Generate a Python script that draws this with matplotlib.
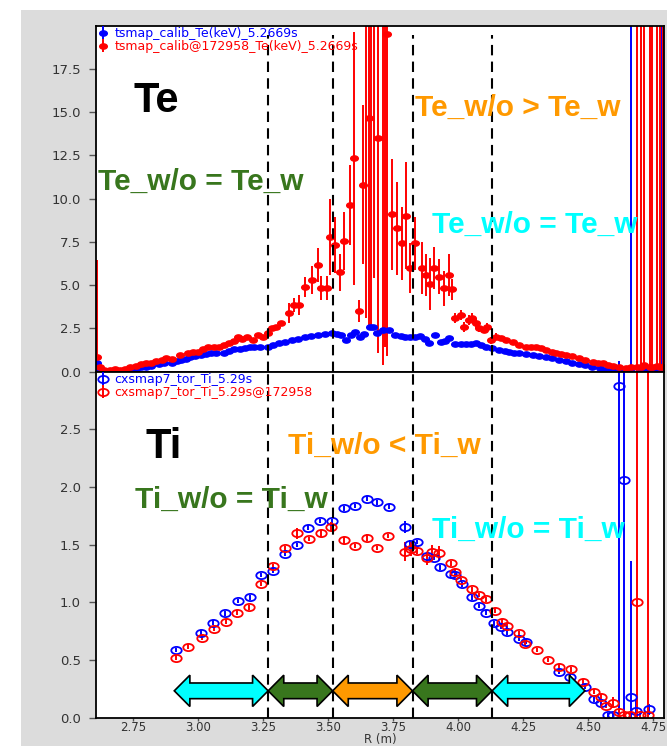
import numpy as np
import matplotlib
matplotlib.use('Agg')
import matplotlib.pyplot as plt
from matplotlib.path import Path
from matplotlib.transforms import Affine2D
from matplotlib.patches import Rectangle, Polygon

# ---------------- data ----------------
te_blue_R = [2.61, 2.625, 2.64, 2.66, 2.68, 2.70, 2.72, 2.74, 2.76, 2.78, 2.80, 2.82, 2.85, 2.87,
             2.90, 2.92, 2.935, 2.955, 2.97, 2.99, 3.01, 3.03, 3.05, 3.07, 3.10, 3.12, 3.14, 3.16,
             3.18, 3.20, 3.217, 3.24, 3.27, 3.29, 3.31, 3.335, 3.36, 3.385, 3.41, 3.435, 3.463,
             3.49, 3.515, 3.535, 3.55, 3.57, 3.59, 3.605, 3.624, 3.64, 3.66, 3.672, 3.688, 3.71,
             3.733, 3.759, 3.78, 3.797, 3.815, 3.836, 3.855, 3.872, 3.888, 3.91, 3.933, 3.95,
             3.965, 3.99, 4.01, 4.03, 4.05, 4.068, 4.09, 4.107, 4.13, 4.158, 4.18, 4.197, 4.215,
             4.235, 4.26, 4.287, 4.31, 4.338, 4.36, 4.39, 4.415, 4.44, 4.465, 4.49, 4.515, 4.544,
             4.57, 4.60, 4.62, 4.664, 4.70, 4.73, 4.76, 4.786]
te_blue = [0.49, 0.10, 0.05, 0.03, 0.04, 0.05, 0.08, 0.12, 0.18, 0.25, 0.30, 0.35, 0.43, 0.48,
           0.52, 0.60, 0.68, 0.75, 0.85, 0.90, 0.96, 1.00, 1.06, 1.08, 1.10, 1.20, 1.29, 1.30,
           1.35, 1.40, 1.45, 1.45, 1.45, 1.55, 1.64, 1.72, 1.83, 1.90, 2.02, 2.05, 2.12,
           2.20, 2.25, 2.20, 2.10, 1.83, 2.10, 2.31, 2.02, 2.20, 2.56, 2.60, 2.22, 2.41,
           2.41, 2.12, 2.05, 2.03, 2.00, 2.02, 2.04, 1.90, 1.64, 2.12, 1.73, 1.80,
           1.96, 1.60, 1.58, 1.60, 1.62, 1.64, 1.55, 1.45, 1.35, 1.25, 1.20, 1.16, 1.10,
           1.06, 1.02, 0.98, 0.93, 0.87, 0.78, 0.68, 0.60, 0.52, 0.46, 0.40, 0.30, 0.20,
           0.12, 0.08, 0.05, 0.20, 0.10, 0.12, 0.20, 0.20]
te_blue_err = [0.05] * 94 + [0.55, 40.0, 0.05, 0.05, 0.05, 40.0]

te_red_R = [2.612, 2.625, 2.64, 2.66, 2.68, 2.70, 2.72, 2.74, 2.76, 2.78,
            2.80, 2.82, 2.84, 2.86, 2.877, 2.90, 2.93, 2.96, 2.98, 3.00,
            3.02, 3.04, 3.06, 3.08, 3.10, 3.12, 3.14, 3.155, 3.17, 3.19,
            3.21, 3.23, 3.25, 3.27, 3.285, 3.30, 3.32, 3.35, 3.37, 3.39,
            3.41, 3.44, 3.46, 3.475, 3.495, 3.508, 3.527, 3.546, 3.561, 3.585,
            3.60, 3.62, 3.636, 3.648, 3.659, 3.665, 3.678, 3.693, 3.713, 3.72,
            3.728, 3.748, 3.764, 3.783, 3.80, 3.815, 3.836, 3.86, 3.875, 3.894,
            3.907, 3.926, 3.946, 3.965, 3.978, 3.99, 4.01, 4.023, 4.042, 4.055,
            4.068, 4.081, 4.10, 4.113, 4.126, 4.145, 4.164, 4.184, 4.21, 4.235,
            4.26, 4.28, 4.30, 4.32, 4.338, 4.36, 4.377, 4.395, 4.415, 4.44,
            4.467, 4.49, 4.518, 4.537, 4.557, 4.575, 4.595, 4.62, 4.647, 4.667,
            4.688, 4.703, 4.715, 4.738, 4.744, 4.765, 4.776, 4.79]
te_red = [0.87, 0.25, 0.10, 0.12, 0.15, 0.12, 0.18, 0.29, 0.35, 0.44,
          0.50, 0.52, 0.60, 0.68, 0.81, 0.75, 0.96, 1.10, 1.12, 1.16,
          1.30, 1.45, 1.40, 1.45, 1.55, 1.65, 1.80, 2.02, 1.90, 2.00,
          1.85, 2.10, 2.00, 2.23, 2.50, 2.60, 2.80, 3.40, 3.85, 3.85,
          4.90, 5.30, 6.17, 4.84, 4.84, 7.80, 7.32, 5.74, 7.55, 9.63,
          12.33, 3.53, 10.80, 22.0, 14.65, 24.0, 25.0, 13.50, 24.0, 22.0,
          19.50, 9.10, 8.29, 7.42, 9.02, 6.01, 7.42, 5.98, 5.60, 5.05,
          5.98, 5.49, 4.82, 5.60, 4.76, 3.12, 3.28, 2.60, 2.99, 3.12,
          2.80, 2.50, 2.41, 2.60, 1.83, 2.02, 1.93, 1.83, 1.73, 1.54,
          1.45, 1.40, 1.42, 1.35, 1.25, 1.15, 1.06, 1.02, 0.98, 0.88,
          0.77, 0.68, 0.58, 0.52, 0.48, 0.40, 0.35, 0.28, 0.21, 0.30,
          0.30, 0.25, 0.40, 0.30, 0.25, 0.35, 0.30, 0.25]
te_red_err = ([5.6] + [0.05] * 29
              + [0.05] * 7 + [0.58, 0.40, 0.60]
              + [0.58, 0.80, 0.96, 0.70, 0.70, 2.20, 1.60, 1.06, 1.70, 2.30]
              + [7.3, 0.63, 4.6, 18.9, 12.0, 21.5, 19.6, 12.4, 23.6, 20.6]
              + [18.6, 3.2, 2.7, 2.1, 3.1, 1.45, 1.54, 1.5, 1.2, 1.5]
              + [1.2, 1.0, 1.0, 1.2, 0.6, 0.3, 0.3, 0.3, 0.3, 0.3]
              + [0.3, 0.2, 0.2, 0.2, 0.2, 0.2, 0.08, 0.08, 0.08, 0.08]
              + [0.08] * 10
              + [0.08] * 9 + [0.1]
              + [40.0] * 8)

ti_blue_R = [2.916, 3.013, 3.058, 3.103, 3.154, 3.199, 3.244, 3.289, 3.334, 3.379, 3.424,
             3.469, 3.515, 3.56, 3.605, 3.65, 3.688, 3.733, 3.797, 3.817, 3.843, 3.88, 3.907,
             3.93, 3.972, 3.99, 4.014, 4.055, 4.081, 4.107, 4.139, 4.164, 4.19, 4.235, 4.262,
             4.39, 4.432, 4.49, 4.523, 4.55, 4.575, 4.595, 4.62, 4.64, 4.665, 4.685, 4.734]
ti_blue = [0.587, 0.737, 0.823, 0.905, 1.011, 1.043, 1.237, 1.274, 1.418, 1.497, 1.647,
           1.707, 1.707, 1.815, 1.835, 1.900, 1.866, 1.829, 1.655, 1.503, 1.525, 1.401, 1.387,
           1.303, 1.245, 1.240, 1.156, 1.043, 0.968, 0.910, 0.818, 0.789, 0.740, 0.685, 0.659,
           0.400, 0.355, 0.270, 0.159, 0.125, 0.020, 0.020, 2.874, 2.060, 0.182, 0.058, 0.073]
ti_blue_err = [0.02] * 18 + [0.05, 0.04] + [0.02] * 22 + [5.0, 5.0, 1.18, 0.1, 0.05]

ti_red_R = [2.916, 2.963, 3.015, 3.061, 3.106, 3.151, 3.197, 3.244, 3.289, 3.334, 3.382,
            3.427, 3.473, 3.512, 3.56, 3.605, 3.65, 3.688, 3.73, 3.795, 3.82, 3.843, 3.88,
            3.90, 3.926, 3.974, 3.99, 4.01, 4.055, 4.081, 4.107, 4.143, 4.171, 4.19, 4.235,
            4.258, 4.303, 4.347, 4.39, 4.435, 4.48, 4.523, 4.55, 4.57, 4.594, 4.62, 4.64,
            4.66, 4.689, 4.70, 4.73]
ti_red = [0.520, 0.615, 0.693, 0.768, 0.832, 0.910, 0.957, 1.159, 1.315, 1.468, 1.598,
          1.549, 1.598, 1.655, 1.540, 1.488, 1.560, 1.473, 1.575, 1.440, 1.460, 1.447, 1.381,
          1.440, 1.430, 1.338, 1.265, 1.193, 1.113, 1.063, 1.026, 0.927, 0.832, 0.797, 0.731,
          0.639, 0.587, 0.500, 0.442, 0.419, 0.312, 0.225, 0.182, 0.101, 0.130, 0.052, 0.020,
          0.020, 1.005, 0.020, 0.020]
ti_red_err = [0.02] * 10 + [0.05, 0.02, 0.03, 0.04, 0.03, 0.02, 0.03, 0.02, 0.02, 0.08, 0.06,
              0.03, 0.06, 0.06, 0.06] + [0.02] * 19 + [0.05, 0.02, 0.02, 0.02, 5.0, 0.02, 5.0]

region_bounds = [2.909, 3.27, 3.518, 3.825, 4.131, 4.488]
region_colors = ['#00ffff', '#38761d', '#ff9900', '#38761d', '#00ffff']

yticks_te = [0.0, 2.5, 5.0, 7.5, 10.0, 12.5, 15.0, 17.5]
yticks_ti = [0.0, 0.5, 1.0, 1.5, 2.0, 2.5]
xticks = [2.75, 3.00, 3.25, 3.50, 3.75, 4.00, 4.25, 4.50, 4.75]

# ---------------- figure ----------------
W, H = 667, 746
fig = plt.figure(figsize=(W / 100, H / 100), dpi=100)
fig.patch.set_facecolor('white')
fig.patches.append(Rectangle((21 / W, 0), 1 - 21 / W, 1 - 10 / H, transform=fig.transFigure,
                             facecolor='#dcdcdc', edgecolor='none', zorder=-10))


def fx(px):
    return px / W


def fy(py):
    return 1 - py / H


L, R = 96, 664
T1, B1, B2 = 25.7, 371.7, 717.7
ax1 = fig.add_axes([fx(L), fy(B1), fx(R) - fx(L), fy(T1) - fy(B1)])
ax2 = fig.add_axes([fx(L), fy(B2), fx(R) - fx(L), fy(B1) - fy(B2)], sharex=ax1)

ell = Path.unit_circle().transformed(Affine2D().scale(1.45, 1.0))

ax1.errorbar(te_blue_R, te_blue, yerr=te_blue_err, fmt='o', marker=ell, ms=5.5,
             color='#0000ff', ecolor='#0000ff', elinewidth=1.4, capsize=0,
             label='tsmap_calib_Te(keV)_5.2669s')
ax1.errorbar(te_red_R, te_red, yerr=te_red_err, fmt='o', marker=ell, ms=5.5,
             color='#ff0000', ecolor='#ff0000', elinewidth=1.4, capsize=0,
             label='tsmap_calib@172958_Te(keV)_5.2669s')

ax2.errorbar(ti_blue_R, ti_blue, yerr=ti_blue_err, fmt='o', marker=ell, ms=7.5, mfc='none',
             mew=1.3, color='#0000ff', ecolor='#0000ff', elinewidth=1.4, capsize=0,
             label='cxsmap7_tor_Ti_5.29s')
ax2.errorbar(ti_red_R, ti_red, yerr=ti_red_err, fmt='o', marker=ell, ms=7.5, mfc='none',
             mew=1.3, color='#ff0000', ecolor='#ff0000', elinewidth=1.4, capsize=0,
             label='cxsmap7_tor_Ti_5.29s@172958')

ax1.set_ylim(0, 20)
ax2.set_ylim(0, 3)
ax1.set_xlim(2.608, 4.792)
ax1.set_yticks(yticks_te)
ax1.set_yticklabels([f'{v:.1f}' for v in yticks_te])
ax2.set_yticks(yticks_ti)
ax2.set_yticklabels([f'{v:.1f}' for v in yticks_ti])
ax2.set_xticks(xticks)
ax2.set_xticklabels([f'{v:.2f}' for v in xticks])
ax1.tick_params(axis='x', length=0, labelbottom=False)
for ax in (ax1, ax2):
    ax.tick_params(axis='y', direction='out', length=5, width=1, color='#555555',
                   labelcolor='#333333', labelsize=9.5, pad=6)
    for s in ax.spines.values():
        s.set_linewidth(1.3)
        s.set_color('black')
ax2.tick_params(axis='x', direction='out', length=2, width=1, color='#555555',
                labelcolor='#333333', labelsize=8.5, pad=0.5)
ax2.set_xlabel('R (m)', fontsize=8.5, color='#333333', va='center')
ax2.xaxis.set_label_coords(0.5, -(740 - B2) / (B2 - B1))

leg_kw = dict(loc='upper left', frameon=False, fontsize=9, handlelength=0.9,
              handletextpad=0.5, borderaxespad=0.0, borderpad=0.1, labelspacing=0.0,
              labelcolor='linecolor')
ax1.legend(**leg_kw)
ax2.legend(**leg_kw)

# region dashed lines
for b in region_bounds[1:-1]:
    ax1.axvline(b, ymin=0, ymax=(B1 - 35) / (B1 - T1), color='black', lw=1.5,
                ls=(0, (5, 3)), zorder=5)
    ax2.axvline(b, ymin=0, ymax=1, color='black', lw=1.5, ls=(0, (5, 3)), zorder=5)

# double-headed arrows
yc, hh, bh, hl = 0.233, 0.136, 0.068, 0.06
for x0, x1, c in zip(region_bounds[:-1], region_bounds[1:], region_colors):
    verts = [(x0, yc), (x0 + hl, yc + hh), (x0 + hl, yc + bh), (x1 - hl, yc + bh),
             (x1 - hl, yc + hh), (x1, yc), (x1 - hl, yc - hh), (x1 - hl, yc - bh),
             (x0 + hl, yc - bh), (x0 + hl, yc - hh)]
    ax2.add_patch(Polygon(verts, closed=True, facecolor=c, edgecolor='black', lw=1.2,
                          zorder=6))

# annotation texts (pixel placement)
tf = dict(family='Liberation Sans', weight='bold')


def ptext(px, py, s, color, size):
    fig.text(fx(px), fy(py), s, color=color, fontsize=size, ha='left', va='baseline',
             zorder=10, **tf)


ptext(133, 112, 'Te', 'black', 30)
ptext(415, 116, 'Te_w/o > Te_w', '#ff9900', 21.5)
ptext(98, 190, 'Te_w/o = Te_w', '#38761d', 21.5)
ptext(432, 233, 'Te_w/o = Te_w', '#00ffff', 21.5)
ptext(146, 458, 'Ti', 'black', 30)
ptext(288, 454, 'Ti_w/o < Ti_w', '#ff9900', 21.5)
ptext(135, 508, 'Ti_w/o = Ti_w', '#38761d', 21.5)
ptext(432, 538, 'Ti_w/o = Ti_w', '#00ffff', 21.5)

fig.savefig('out.png', dpi=100)
